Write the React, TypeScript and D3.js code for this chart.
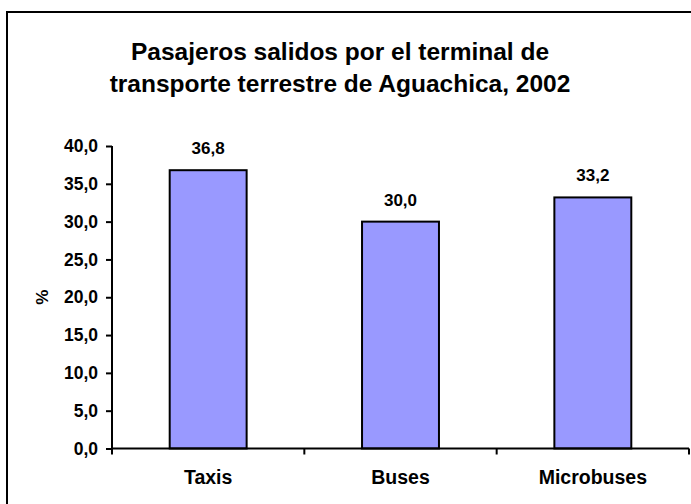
import * as d3 from "d3";
import { useEffect, useRef } from "react";

const categories = ["Taxis", "Buses", "Microbuses"];
const values = [36.8, 30.0, 33.2];
const yTicks = [0, 5, 10, 15, 20, 25, 30, 35, 40];
const titleLines = [
  "Pasajeros salidos por el terminal de",
  "transporte terrestre de Aguachica, 2002",
];

const width = 691;
const height = 504;
const marginLeft = 112;
const marginRight = 2;
const marginTop = 146;
const marginBottom = 56;
const font = "'Liberation Sans', Arial, sans-serif";
const fmt = (v: number) => v.toFixed(1).replace(".", ",");

export default function App() {
  const xRef = useRef<SVGGElement>(null);
  const yRef = useRef<SVGGElement>(null);

  // x scale: categories, bars take ~40% of each band
  const x = d3
    .scaleBand<string>()
    .domain(categories)
    .range([marginLeft, width - marginRight])
    .paddingInner(0.6)
    .paddingOuter(0.3);
  const xTickScale = d3
    .scaleBand<string>()
    .domain(categories)
    .range([marginLeft, width - marginRight]);

  const y = d3
    .scaleLinear()
    .domain([0, 40])
    .range([height - marginBottom + 0.5, marginTop]);

  useEffect(() => {
    // x axis: ticks at band edges
    const gx = d3.select(xRef.current);
    gx.selectAll("*").remove();
    gx.append("line")
      .attr("x1", marginLeft)
      .attr("x2", width - marginRight)
      .attr("stroke", "#000")
      .attr("stroke-width", 2);
    const edges = categories.map((c) => xTickScale(c) as number);
    edges.push(width - marginRight);
    gx.selectAll("line.tk")
      .data(edges)
      .join("line")
      .attr("class", "tk")
      .attr("x1", (d) => d)
      .attr("x2", (d) => d)
      .attr("y1", 0)
      .attr("y2", 6)
      .attr("stroke", "#000")
      .attr("stroke-width", 2);
    gx.selectAll("text")
      .data(categories)
      .join("text")
      .attr("x", (d) => (xTickScale(d) as number) + xTickScale.bandwidth() / 2)
      .attr("y", 35)
      .attr("text-anchor", "middle")
      .attr("font-family", font)
      .attr("font-weight", "bold")
      .attr("font-size", 19.5)
      .text((d) => d);

    const yAxis = d3
      .axisLeft(y)
      .tickValues(yTicks)
      .tickSize(6)
      .tickPadding(8)
      .tickFormat((d) => fmt(d as number));
    const gy = d3.select(yRef.current);
    gy.call(yAxis);
    gy.select(".domain").attr("stroke-width", 2).attr("d", `M0,${y(0)}V${y(40)}`);
    gy.selectAll(".tick line").attr("stroke-width", 2);
    gy.selectAll(".tick text")
      .attr("font-family", font)
      .attr("font-weight", "bold")
      .attr("font-size", 17.5)
      .attr("fill", "#000");
  }, []);

  return (
    <div style={{ position: "absolute", left: 0, top: 0 }}>
      <svg width={width} height={height} style={{ display: "block" }}>
        <rect width={width} height={height} fill="#fff" />
        <rect x={7} y={12} width={720} height={540} fill="none" stroke="#000" strokeWidth={2} />
        {titleLines.map((t, i) => (
          <text
            key={i}
            x={340}
            y={60 + i * 31.5}
            textAnchor="middle"
            fontFamily={font}
            fontWeight="bold"
            fontSize={24.5}
          >
            {t}
          </text>
        ))}
        <g>
          {values.map((v, i) => (
            <rect
              key={i}
              x={x(categories[i])}
              y={y(v)}
              width={x.bandwidth()}
              height={y(0) - y(v)}
              fill="#9999ff"
              stroke="#000"
              strokeWidth={2}
            />
          ))}
        </g>
        <g>
          {values.map((v, i) => (
            <text
              key={i}
              x={(x(categories[i]) as number) + x.bandwidth() / 2}
              y={y(v) - 16}
              textAnchor="middle"
              fontFamily={font}
              fontWeight="bold"
              fontSize={17}
            >
              {fmt(v)}
            </text>
          ))}
        </g>
        <g ref={xRef} transform={`translate(0,${y(0)})`} />
        <g ref={yRef} transform={`translate(${marginLeft},0)`} />
        <text
          transform={`translate(48,${(y(0) + y(40)) / 2}) rotate(-90)`}
          textAnchor="middle"
          fontFamily={font}
          fontWeight="bold"
          fontSize={17}
        >
          %
        </text>
      </svg>
    </div>
  );
}
